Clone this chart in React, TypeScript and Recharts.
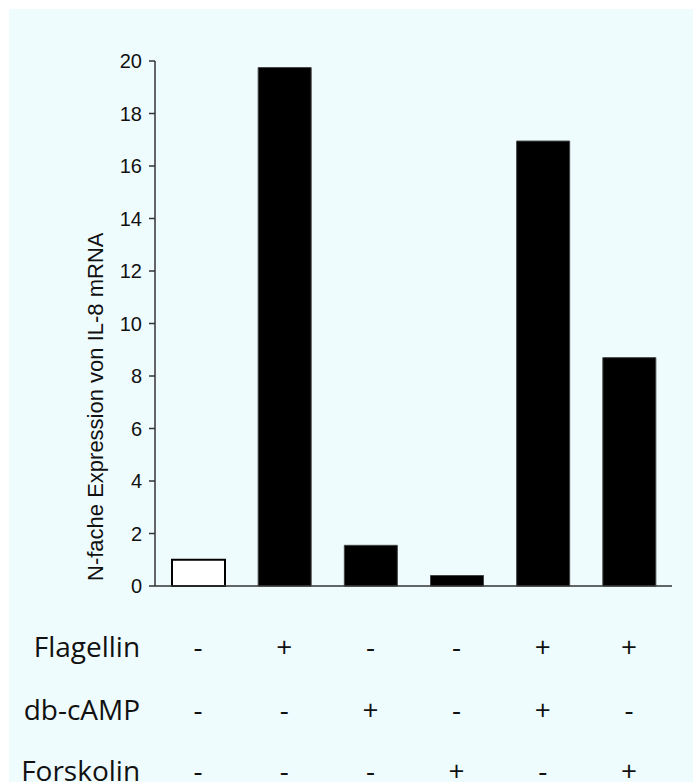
import React from "react";
import { BarChart, Bar, Cell, XAxis, YAxis } from "recharts";

// IL-8 mRNA fold expression per treatment combination
const samples = ["A", "B", "C", "D", "E", "F"];
const expression = [1.0, 19.75, 1.55, 0.4, 16.95, 8.7];
const flagellin = ["-", "+", "-", "-", "+", "+"];
const dbCamp = ["-", "-", "+", "-", "+", "-"];
const forskolin = ["-", "-", "-", "+", "-", "+"];
const rowLabels = ["Flagellin", "db-cAMP", "Forskolin"];
const yTicks = [0, 2, 4, 6, 8, 10, 12, 14, 16, 18, 20];
const yLabel = "N-fache Expression von IL-8 mRNA";

const rows = [flagellin, dbCamp, forskolin];
const rowOffsets = [71, 134, 195];

const data = samples.map((s, i) => ({ name: s, value: expression[i] }));

const tableFont = "'Open Sans', sans-serif";
const axisFont = "'Liberation Sans', Arial, sans-serif";

function TreatmentTick(props: any) {
  const { x, y, payload } = props;
  const idx = payload.index;
  return (
    <g>
      {rows.map((r, ri) => (
        <text
          key={ri}
          x={x}
          y={y + rowOffsets[ri]}
          textAnchor="middle"
          fontSize={28}
          fontFamily={tableFont}
          fill="#111"
        >
          {r[idx]}
        </text>
      ))}
      {idx === 0 &&
        rowLabels.map((lbl, ri) => (
          <text
            key={lbl}
            x={x - 58}
            y={y + rowOffsets[ri]}
            textAnchor="end"
            fontSize={28}
            fontFamily={tableFont}
            fill="#111"
          >
            {lbl}
          </text>
        ))}
    </g>
  );
}

function YLabel(props: any) {
  const vb = props.viewBox;
  const x = vb.x + 8;
  const y = vb.y + vb.height - 5;
  return (
    <text
      x={x}
      y={y}
      transform={`rotate(-90 ${x} ${y})`}
      textAnchor="start"
      fontSize={22}
      fontFamily={axisFont}
      fill="#111"
    >
      {yLabel}
    </text>
  );
}

export default function App() {
  return (
    <div style={{ position: "absolute", left: 0, top: 0, width: 693, height: 782, background: "#fff" }}>
      <div
        style={{ position: "absolute", left: 9, top: 9, right: 0, bottom: 0, background: "#effcfe" }}
      />
      <div style={{ position: "absolute", left: 0, top: 0 }}>
        <BarChart
          width={693}
          height={782}
          data={data}
          margin={{ top: 61, right: 21, left: 95, bottom: 16 }}
          barSize={53}
        >
          <XAxis
            dataKey="name"
            height={180}
            axisLine={{ stroke: "#333", strokeWidth: 1.5 }}
            tickLine={false}
            tickSize={0}
            tickMargin={0}
            interval={0}
            tick={<TreatmentTick />}
          />
          <YAxis
            width={60}
            domain={[0, 20]}
            ticks={yTicks}
            interval={0}
            axisLine={{ stroke: "#333", strokeWidth: 1.5 }}
            tickLine={{ stroke: "#333", strokeWidth: 1.5 }}
            tickSize={6}
            tickMargin={7}
            tick={{ fontSize: 20, fill: "#111", fontFamily: axisFont }}
            label={<YLabel />}
          />
          <Bar dataKey="value" isAnimationActive={false}>
            {data.map((d, i) => (
              <Cell
                key={d.name}
                fill={i === 0 ? "#ffffff" : "#000000"}
                stroke={i === 0 ? "#000" : "#444"}
                strokeWidth={i === 0 ? 2 : 1}
              />
            ))}
          </Bar>
        </BarChart>
      </div>
    </div>
  );
}
